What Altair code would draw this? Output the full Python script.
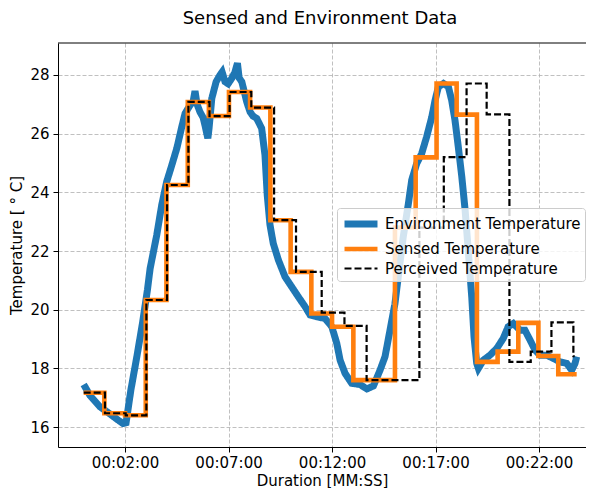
import altair as alt
import pandas as pd

SERIES = ["Environment Temperature", "Sensed Temperature", "Perceived Temperature"]

# Environment temperature (minutes, deg C)
env_t = [0.0, 0.31, 0.79, 1.28, 1.66, 1.90, 2.05, 2.28, 2.57, 2.84,
         3.08, 3.21, 3.53, 3.77, 4.01, 4.26, 4.50, 4.74, 4.90, 5.14,
         5.29, 5.38, 5.48, 5.62, 5.77, 5.86, 6.00, 6.06, 6.19, 6.40,
         6.59, 6.69, 6.83, 6.98, 7.15, 7.31, 7.43, 7.51, 7.64, 7.88,
         8.04, 8.18, 8.36, 8.60, 8.76, 8.87, 9.00, 9.16, 9.41, 9.73,
         10.05, 10.37, 10.70, 10.94, 11.26, 11.66, 11.99, 12.23, 12.39, 12.63,
         12.95, 13.35, 13.68, 14.00, 14.32, 14.56, 14.80, 15.04, 15.20, 15.44,
         15.69, 15.85, 16.09, 16.33, 16.57, 16.82, 16.98, 17.14, 17.38, 17.62,
         17.78, 17.94, 18.10, 18.27, 18.43, 18.58, 18.75, 18.86, 18.99, 19.07,
         19.31, 19.63, 19.96, 20.27, 20.51, 20.76, 21.08, 21.32, 21.57, 21.81,
         22.05, 22.37, 22.69, 23.02, 23.34, 23.58, 23.74, 23.82]
env_v = [17.45, 17.07, 16.69, 16.44, 16.24, 16.12, 16.15, 17.26, 18.4, 19.53,
         20.67, 21.4, 22.54, 23.56, 24.36, 24.93, 25.5, 26.23, 26.69, 26.97,
         27.1, 27.45, 27.0, 26.74, 26.55, 26.29, 25.84, 26.2, 27.2, 27.77,
         28.0, 28.1, 27.77, 27.7, 27.88, 28.1, 28.4, 27.9, 27.77, 27.08,
         26.74, 26.6, 26.52, 26.18, 25.27, 23.9, 22.9, 22.26, 21.69, 21.12,
         20.78, 20.44, 20.1, 19.82, 19.76, 19.7, 19.42, 18.85, 18.28, 17.83,
         17.49, 17.45, 17.3, 17.4, 17.94, 18.4, 19.3, 20.21, 21.12, 22.48,
         23.62, 24.42, 24.98, 25.32, 25.89, 26.57, 27.14, 27.6, 27.71, 27.6,
         27.14, 26.46, 25.55, 24.53, 23.39, 22.03, 20.44, 19.08, 18.17, 18.0,
         18.28, 18.45, 18.68, 19.02, 19.42, 19.53, 19.3, 19.3, 18.96, 18.62,
         18.45, 18.45, 18.34, 18.22, 18.17, 17.94, 18.17, 18.4]

# Sensed temperature (step after)
sensed_t = [0.0, 1.0, 2.0, 3.0, 4.0, 5.03, 6.05, 7.02, 8.04, 9.02, 10.0, 11.0,
            12.0, 13.03, 15.04, 16.04, 17.05, 18.02, 19.0, 20.0, 21.0, 21.97, 22.93, 23.82]
sensed_v = [17.17, 16.47, 16.4, 20.33, 24.25, 27.08, 26.6, 27.42, 26.89, 23.05, 21.29, 19.87,
            19.42, 17.6, 22.8, 25.19, 27.71, 26.65, 18.22, 18.57, 19.55, 18.42, 17.8, 17.8]

# Perceived temperature (step after)
perc_t = [0.0, 1.03, 2.03, 3.03, 4.03, 5.06, 6.08, 7.05, 8.1, 9.2, 10.26, 11.5,
          12.6, 13.67, 16.22, 17.4, 18.5, 19.47, 20.57, 21.6, 22.6, 23.66, 23.72]
perc_v = [17.17, 16.47, 16.4, 20.33, 24.25, 27.08, 26.6, 27.42, 26.89, 23.05, 21.29, 19.9,
          19.45, 17.6, 22.8, 25.2, 27.71, 26.66, 18.22, 18.57, 19.57, 18.42, 18.42]

x_ticks = [2, 7, 12, 17, 22]
y_ticks = [16, 18, 20, 22, 24, 26, 28]

rows = []
for name, ts, vs in [(SERIES[0], env_t, env_v), (SERIES[1], sensed_t, sensed_v),
                     (SERIES[2], perc_t, perc_v)]:
    for i, (t, v) in enumerate(zip(ts, vs)):
        rows.append({"t": t, "v": v, "series": name, "i": i})
df = pd.DataFrame(rows)

FONT = "DejaVu Sans"
W, H = 528, 404

legend = alt.Legend(
    title=None, orient="none", legendX=279, legendY=165,
    symbolType="M-2,0H2", symbolSize=272, symbolOffset=8, labelFontSize=15, labelFont=FONT,
    labelColor="black", labelLimit=400, fillColor="rgba(255,255,255,0.8)",
    strokeColor="#cccccc", cornerRadius=3, padding=4, rowPadding=0, labelOffset=12,
)

base = alt.Chart(df).encode(
    x=alt.X("t:Q", scale=alt.Scale(domain=[-1.24, 24.27], nice=False, zero=False),
            axis=alt.Axis(values=x_ticks, title="Duration [MM:SS]",
                          labelExpr="'00:' + (datum.value < 10 ? '0' : '') + datum.value + ':00'",
                          titleY=33, titleBaseline="middle", labelPadding=3)),
    y=alt.Y("v:Q", scale=alt.Scale(domain=[15.32, 29.09], nice=False, zero=False),
            axis=alt.Axis(values=y_ticks, title="Temperature [ ° C]", titleX=-42, titleY=H / 2,
                          titleBaseline="middle", titleAngle=270, labelPadding=4)),
    color=alt.Color("series:N", scale=alt.Scale(domain=SERIES, range=["#1f77b4", "#ff7f0e", "#000000"]),
                    legend=legend),
    strokeWidth=alt.StrokeWidth("series:N",
                                scale=alt.Scale(type="point", domain=SERIES, range=[7, 2.2], padding=0),
                                legend=legend),
    strokeDash=alt.StrokeDash("series:N", scale=alt.Scale(domain=SERIES, range=[[1, 0], [1, 0], [7, 3]]),
                              legend=legend),
    order="i:Q",
)

env = base.transform_filter(alt.datum.series == SERIES[0]).mark_line(interpolate="linear")
sen = base.transform_filter(alt.datum.series == SERIES[1]).mark_line(interpolate="step-after")
per = base.transform_filter(alt.datum.series == SERIES[2]).mark_line(interpolate="step-after")

top_spine = alt.Chart(pd.DataFrame({"k": [0]})).mark_rule(color="black", strokeWidth=1).encode(
    x=alt.value(0), x2=alt.value(W), y=alt.value(0)
)

chart = alt.layer(env, sen, per, top_spine).properties(
    width=W, height=H,
    autosize=alt.AutoSizeParams(type="none"),
    padding={"left": 50, "top": 35, "right": 0, "bottom": 41},
    title=alt.TitleParams("Sensed and Environment Data", fontSize=18, fontWeight="normal",
                          font=FONT, color="black", anchor="middle", dx=-2, offset=15),
).configure_view(stroke=None).configure_axis(
    labelFont=FONT, titleFont=FONT, labelFontSize=15, titleFontSize=15,
    labelColor="black", titleColor="black", titleFontWeight="normal",
    domainColor="black", tickColor="black", tickSize=5, domainWidth=1,
    gridColor="#b0b0b0", gridDash=[4, 2], gridWidth=0.8,
)

chart.save("out.html", embed_options={"renderer": "svg", "actions": False})
